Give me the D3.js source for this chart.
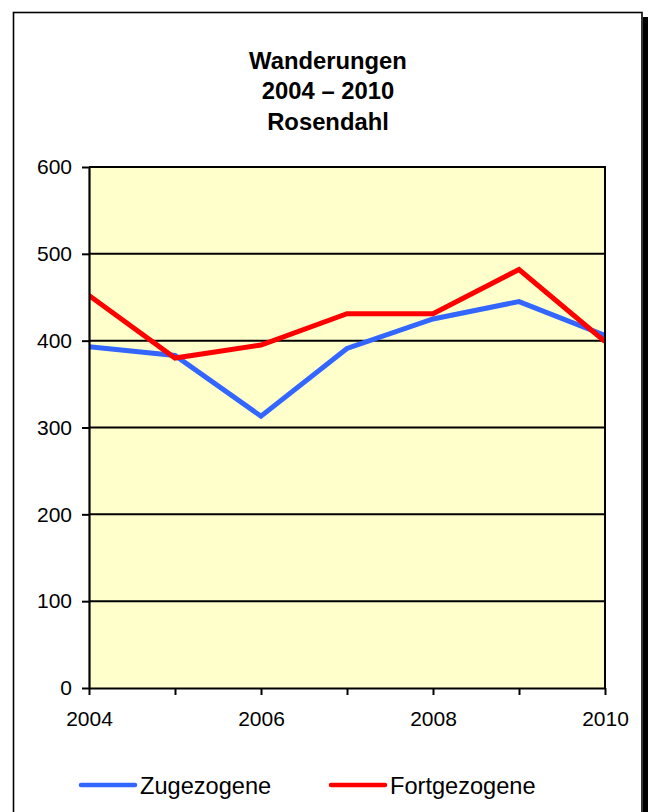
<!DOCTYPE html>
<html>
<head>
<meta charset="utf-8">
<script src="https://cdn.jsdelivr.net/npm/d3@7"></script>
<style>
  body { margin: 0; background: #fff; }
  svg { display: block; font-family: Arial, "Liberation Sans", sans-serif; }
</style>
</head>
<body>
<div id="chart"></div>
<script>
// values
const years = [2004, 2005, 2006, 2007, 2008, 2009, 2010];
const zugezogene = [393, 383, 313, 391, 425, 445, 406];
const fortgezogene = [452, 380, 395, 431, 431, 482, 399];
const yTicks = [0, 100, 200, 300, 400, 500, 600];
const titleLines = ["Wanderungen", "2004 \u2013 2010", "Rosendahl"];
const seriesNames = ["Zugezogene", "Fortgezogene"];
const seriesColors = ["#3366ff", "#ff0000"];

const width = 648, height = 812;
const plot = { left: 89, right: 605, top: 167, bottom: 688 };

let svg = d3.select("#chart").append("svg")
  .attr("width", width)
  .attr("height", height);

// frame + shadow
svg.append("rect")
  .attr("x", 643).attr("y", 17)
  .attr("width", 7).attr("height", height)
  .attr("fill", "#000");
svg.append("rect")
  .attr("x", 13.5).attr("y", 12.5)
  .attr("width", 628.5).attr("height", height + 10)
  .attr("fill", "#fff")
  .attr("stroke", "#000")
  .attr("stroke-width", 1.6);

// title
svg.append("g").selectAll("text")
  .data(titleLines)
  .enter().append("text")
  .attr("x", 328)
  .attr("y", (d, i) => 68.5 + i * 30.5)
  .attr("text-anchor", "middle")
  .attr("font-size", 23.8)
  .attr("font-weight", "bold")
  .text(d => d);

let x = d3.scaleLinear().domain([2004, 2010]).range([plot.left, plot.right]);
let y = d3.scaleLinear().domain([0, 600]).range([plot.bottom, plot.top]);

// plot background
svg.append("rect")
  .attr("x", plot.left).attr("y", plot.top)
  .attr("width", plot.right - plot.left)
  .attr("height", plot.bottom - plot.top)
  .attr("fill", "#ffffcc");

// gridlines
svg.append("g").selectAll("line")
  .data(yTicks.filter(d => d > 0 && d < 600))
  .enter().append("line")
  .attr("x1", plot.left).attr("x2", plot.right)
  .attr("y1", d => y(d)).attr("y2", d => y(d))
  .attr("stroke", "#000")
  .attr("stroke-width", 2);

// series lines
svg.append("clipPath").attr("id", "plotClip")
  .append("rect")
  .attr("x", plot.left).attr("y", plot.top)
  .attr("width", plot.right - plot.left)
  .attr("height", plot.bottom - plot.top);

let line = d3.line()
  .x((d, i) => x(years[i]))
  .y(d => y(d));

[zugezogene, fortgezogene].forEach((s, k) => {
  svg.append("path")
    .datum(s)
    .attr("clip-path", "url(#plotClip)")
    .attr("d", line)
    .attr("fill", "none")
    .attr("stroke", seriesColors[k])
    .attr("stroke-width", 5)
    .attr("stroke-linejoin", "miter");
});

// plot box top + right
svg.append("path")
  .attr("d", "M" + plot.left + "," + plot.top + "H" + plot.right + "V" + plot.bottom)
  .attr("fill", "none")
  .attr("stroke", "#000")
  .attr("stroke-width", 2);

// axes
let yAxis = svg.append("g")
  .attr("transform", "translate(" + plot.left + ",0)")
  .call(d3.axisLeft(y).tickValues(yTicks).tickSize(7).tickPadding(10).tickSizeOuter(0));
let xAxis = svg.append("g")
  .attr("transform", "translate(0," + plot.bottom + ")")
  .call(d3.axisBottom(x).tickValues(years).tickSize(7).tickPadding(16).tickSizeOuter(0)
    .tickFormat(d => d % 2 === 0 ? d : ""));

[yAxis, xAxis].forEach(a => {
  a.select(".domain").attr("stroke", "#000").attr("stroke-width", 2.2);
  a.selectAll(".tick line").attr("stroke", "#000").attr("stroke-width", 2);
  a.selectAll(".tick text")
    .attr("fill", "#000")
    .attr("font-size", 21)
    .attr("font-family", "Arial, 'Liberation Sans', sans-serif");
});

// legend
const legendX = [81, 331];
seriesNames.forEach((name, k) => {
  let g = svg.append("g").attr("transform", "translate(" + legendX[k] + ",785)");
  g.append("line")
    .attr("x1", 0).attr("x2", 54)
    .attr("stroke", seriesColors[k])
    .attr("stroke-width", 4.5)
    .attr("stroke-linecap", "round");
  g.append("text")
    .attr("x", 59).attr("y", 9)
    .attr("font-size", 23.6)
    .text(name);
});
</script>
</body>
</html>
